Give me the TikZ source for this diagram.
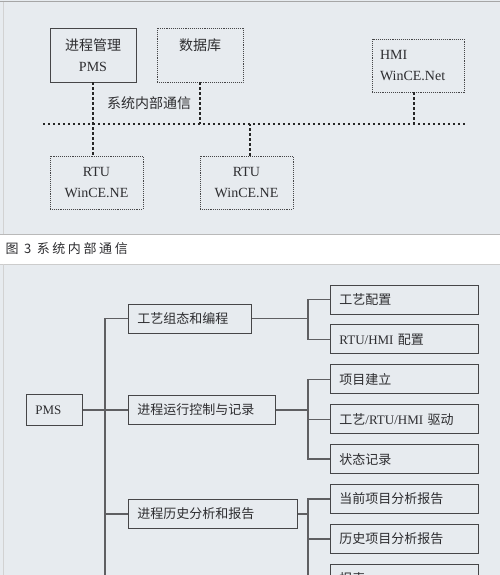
\documentclass[tikz,border=0pt]{standalone}
\usepackage{fontspec}
\setmainfont{Liberation Serif}
\newfontfamily\cjk{Noto Sans CJK SC}
\newfontfamily\capfont[LetterSpace=20]{Noto Sans CJK SC}
\usetikzlibrary{positioning, calc}
\definecolor{panel}{RGB}{231,235,239}
\definecolor{ink}{RGB}{70,70,72}
\definecolor{rule}{RGB}{95,95,98}
\definecolor{txt}{RGB}{45,45,48}
\tikzset{
  sysbox/.style={draw=ink,line width=0.9pt,fill=panel,inner sep=0pt,
    align=center,text=txt,font=\fontsize{14}{21}\selectfont},
  dotbox/.style={sysbox,densely dotted},
  bus/.style={line width=2.4pt,dash pattern=on 2.4pt off 2.6pt,black!85},
  funcbox/.style={draw=ink,line width=0.9pt,fill=panel,inner xsep=9pt,
    inner ysep=0pt,minimum height=29pt,align=left,anchor=west,text=txt,
    font=\cjk\fontsize{13}{15}\selectfont},
  tree/.style={draw=rule,line width=1.3pt},
}
\begin{document}
\begin{tikzpicture}[x=1pt,y=-1pt]
  \clip (0,0) rectangle (500,575);
  % panels
  \fill[white] (0,0) rectangle (500,575);
  \fill[panel] (0,0) rectangle (500,234);
  \draw[gray!70,line width=1pt] (0,2) -- (500,2);
  \draw[gray!35,line width=0.8pt] (3,2) -- (3,234);
  \draw[gray!55,line width=1pt] (0,234.5) -- (500,234.5);
  \fill[panel] (0,264) rectangle (500,575);
  \draw[gray!40,line width=0.8pt] (0,264) -- (500,264);
  \draw[gray!35,line width=0.8pt] (3,264) -- (3,575);

  % system bus
  \node[sysbox,minimum width=86pt,minimum height=54pt] (pms) at (93,55)
    {{\cjk 进程管理}\\PMS};
  \node[dotbox,minimum width=86pt,minimum height=54pt] (db) at (200,55)
    {{\cjk 数据库}\\~};
  \node[dotbox,minimum width=92pt,minimum height=53pt,text width=76pt,
    align=left] (hmi) at (418,65.5) {HMI\\WinCE.Net};
  \node[dotbox,minimum width=93pt,minimum height=53pt] (rtuA) at (96.5,182.5)
    {RTU\\WinCE.NE};
  \node[dotbox,minimum width=93pt,minimum height=53pt] (rtuB) at (246.5,182.5)
    {RTU\\WinCE.NE};
  \coordinate (busW) at (43,124);
  \coordinate (busE) at (465,124);
  \draw[bus] (busW) -- (busE);
  \draw[bus] (pms.south) -- (pms.south |- rtuA.north);
  \draw[bus] (db.south) -- (db.south |- busW);
  \draw[bus] ([xshift=3.5pt]rtuB.north) -- ([xshift=3.5pt]rtuB.north |- busW);
  \draw[bus] ([xshift=-4pt]hmi.south) -- ([xshift=-4pt]hmi.south |- busW);
  \node[text=txt,font=\cjk\fontsize{14}{14}\selectfont] (buslbl) at (149,103)
    {系统内部通信};

  \node[anchor=west,text=txt,font=\capfont\fontsize{13}{13}\selectfont] (cap)
    at (2,249) {图 3 系统内部通信};

  % PMS function tree
  \node[funcbox,font=\fontsize{13}{15}\selectfont,text width=38pt,
    minimum height=31pt] (pmsT) at (26,410) {PMS};
  \node[funcbox,text width=105pt] (p1) at (128,318.5) {工艺组态和编程};
  \node[funcbox,text width=129pt] (p2) at (128,410) {进程运行控制与记录};
  \node[funcbox,text width=151pt] (p3) at (128,514) {进程历史分析和报告};

  \node[funcbox,text width=130pt] (s1) at (330,299.5) {工艺配置};
  \node[funcbox,text width=130pt,below=10pt of s1.south west,anchor=north west] (s2)
    {{\rmfamily RTU/HMI} 配置};
  \node[funcbox,text width=130pt,below=10pt of s2.south west,anchor=north west] (s3)
    {项目建立};
  \node[funcbox,text width=130pt,below=10pt of s3.south west,anchor=north west] (s4)
    {工艺{\rmfamily /RTU/HMI} 驱动};
  \node[funcbox,text width=130pt,below=10pt of s4.south west,anchor=north west] (s5)
    {状态记录};
  \node[funcbox,text width=130pt,below=10pt of s5.south west,anchor=north west] (s6)
    {当前项目分析报告};
  \node[funcbox,text width=130pt,below=10pt of s6.south west,anchor=north west] (s7)
    {历史项目分析报告};
  \node[funcbox,text width=130pt,below=10pt of s7.south west,anchor=north west] (s8)
    {报表};

  \coordinate (tk) at (105,580);
  \draw[tree] (pmsT.east) -- (p2.west);
  \draw[tree] (p1.west) -| (tk);
  \draw[tree] (p3.west) -- (p3.west -| tk);

  \coordinate (ja) at ([xshift=-22pt]s1.west);
  \draw[tree] (s1.west) -- (ja) |- (s2.west);
  \draw[tree] (p1.east) -- (p1.east -| ja);
  \coordinate (jb) at ([xshift=-22pt]s3.west);
  \draw[tree] (s3.west) -- (jb) |- (s5.west);
  \draw[tree] (s4.west) -- (s4.west -| jb);
  \draw[tree] (p2.east) -- (p2.east -| jb);
  \coordinate (jc) at ([xshift=-22pt]s6.west);
  \draw[tree] (s6.west) -- (jc) |- (s8.west);
  \draw[tree] (s7.west) -- (s7.west -| jc);
  \draw[tree] (p3.east) -- (p3.east -| jc);
\end{tikzpicture}
\end{document}
